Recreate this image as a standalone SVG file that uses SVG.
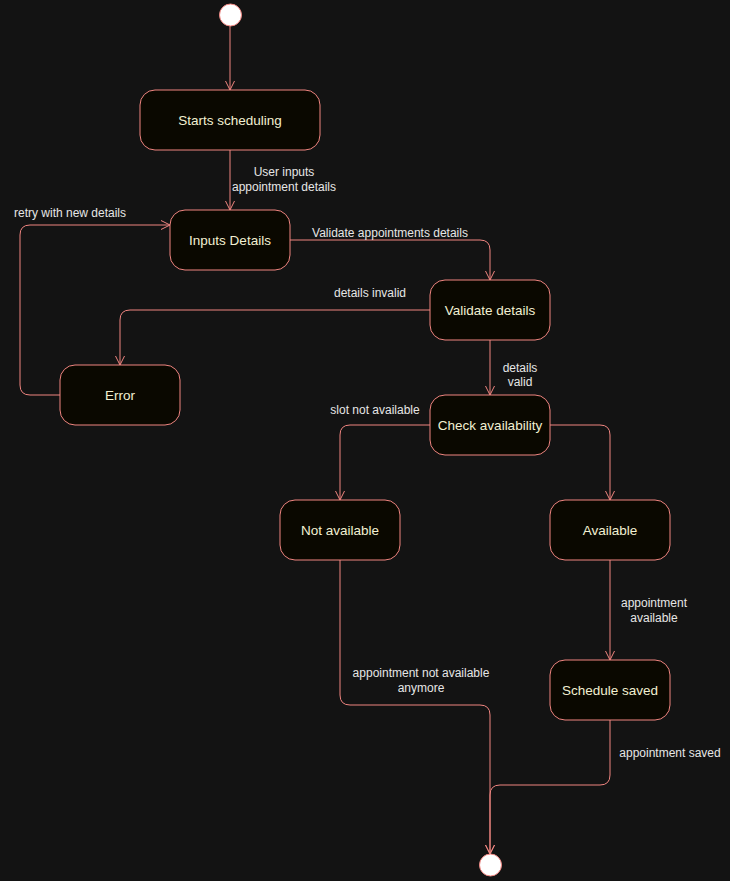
<svg xmlns="http://www.w3.org/2000/svg" width="730" height="881" viewBox="0 0 730 881">
<defs>
<marker id="arr" markerWidth="12" markerHeight="12" refX="10" refY="5" orient="auto" markerUnits="userSpaceOnUse" viewBox="0 0 12 10">
<path d="M1,0.5 L10,5 L1,9.5" fill="none" stroke="#f08580" stroke-width="1"/>
</marker>
</defs>
<style>
.bg{fill:#131313}
.node rect{fill:#0a0800;stroke:#f08580;stroke-width:1}
.node text{font-family:"Liberation Sans",Arial,sans-serif;font-size:13.5px;fill:#f2f0d2;text-anchor:middle;dominant-baseline:central}
.circ{fill:#ffffff;stroke:#f08580;stroke-width:1}
.edge{fill:none;stroke:#f08580;stroke-width:1;marker-end:url(#arr)}
.lbl{font-family:"Liberation Sans",Arial,sans-serif;font-size:12px;fill:#e6e6e6;text-anchor:middle;dominant-baseline:central}
</style>
<rect class="bg" x="0" y="0" width="730" height="881"/>
<g id="connectors">
<path class="edge" d="M230,26 V90"/>
<path class="edge" d="M230,150 V210"/>
<path class="edge" d="M290,240 H480 Q490,240 490,250 V280"/>
<path class="edge" d="M430,310 H130 Q120,310 120,320 V365"/>
<path class="edge" d="M60,395 H30 Q20,395 20,385 V235 Q20,225 30,225 H170"/>
<path class="edge" d="M490,340 V395"/>
<path class="edge" d="M430,425 H350 Q340,425 340,435 V500"/>
<path class="edge" d="M550,425 H600 Q610,425 610,435 V500"/>
<path class="edge" d="M610,560 V660"/>
<path class="edge" d="M340,560 V695 Q340,705 350,705 H480 Q490,705 490,715 V854"/>
<path class="edge" d="M610,720 V775 Q610,785 600,785 H500 Q490,785 490,795 V854"/>
<text class="lbl" x="284" y="172">User inputs</text>
<text class="lbl" x="284" y="187">appointment details</text>
<text class="lbl" x="70" y="213">retry with new details</text>
<text class="lbl" x="390" y="233">Validate appointments details</text>
<text class="lbl" x="370" y="293">details invalid</text>
<text class="lbl" x="520" y="368">details</text>
<text class="lbl" x="520" y="382">valid</text>
<text class="lbl" x="375" y="410">slot not available</text>
<text class="lbl" x="654" y="603">appointment</text>
<text class="lbl" x="654" y="618">available</text>
<text class="lbl" x="421" y="673">appointment not available</text>
<text class="lbl" x="421" y="688">anymore</text>
<text class="lbl" x="670" y="753">appointment saved</text>
</g>
<g id="start"><circle class="circ" cx="230.5" cy="15" r="11"/></g>
<g id="starts-scheduling" class="node"><rect x="140" y="90" width="180" height="60" rx="15"/><text x="230" y="120">Starts scheduling</text></g>
<g id="inputs-details" class="node"><rect x="170" y="210" width="120" height="60" rx="15"/><text x="230" y="240">Inputs Details</text></g>
<g id="validate-details" class="node"><rect x="430" y="280" width="120" height="60" rx="15"/><text x="490" y="310">Validate details</text></g>
<g id="error" class="node"><rect x="60" y="365" width="120" height="60" rx="15"/><text x="120" y="395">Error</text></g>
<g id="check-availability" class="node"><rect x="430" y="395" width="120" height="60" rx="15"/><text x="490" y="425">Check availability</text></g>
<g id="not-available" class="node"><rect x="280" y="500" width="120" height="60" rx="15"/><text x="340" y="530">Not available</text></g>
<g id="available" class="node"><rect x="550" y="500" width="120" height="60" rx="15"/><text x="610" y="530">Available</text></g>
<g id="schedule-saved" class="node"><rect x="550" y="660" width="120" height="60" rx="15"/><text x="610" y="690">Schedule saved</text></g>
<g id="end"><circle class="circ" cx="490.5" cy="865" r="11"/></g>
</svg>
